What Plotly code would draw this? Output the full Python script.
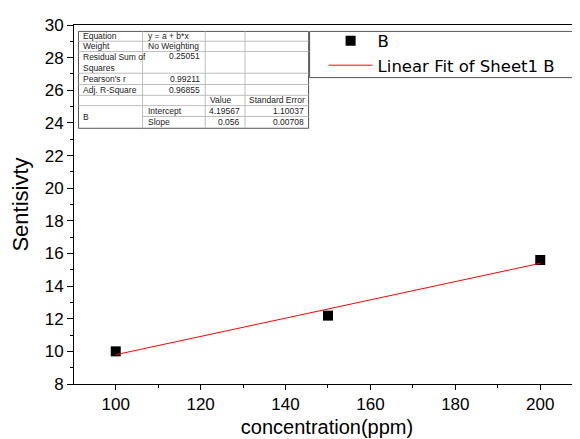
import plotly.graph_objects as go

# ---- data ----
conc = [100, 150, 200]
sens = [10.0, 12.19, 15.6]
fit_x = [100, 200]
fit_y = [9.796, 15.396]

x_ticks = [100, 120, 140, 160, 180, 200]
y_ticks = [8, 10, 12, 14, 16, 18, 20, 22, 24, 26, 28, 30]

tbl_col1 = ["Equation", "Weight", "Residual Sum of<br>Squares", "Pearson's r", "Adj. R-Square", "", "B"]
tbl_col2 = ["y = a + b*x", "No Weighting", "0.25051", "0.99211", "0.96855", "", "Intercept", "Slope"]
tbl_col3 = ["", "", "", "", "", "Value", "4.19567", "0.056"]
tbl_col4 = ["", "", "", "", "", "Standard Error", "1.10037", "0.00708"]

OFF = 8  # page body margin
W, H = 580, 439
L, T = 71 - OFF, 19 - OFF
R = OFF
B = H - (384 - OFF)
PW, PH = W - L - R, H - T - B

def px(x):
    return (x - OFF - L) / PW

def py(y):
    return (H - B - (y - OFF)) / PH

FONT = "Arial, Liberation Sans, sans-serif"
LEGFONT = "DejaVu Sans, Arial, sans-serif"

fig = go.Figure()
fig.add_trace(go.Scatter(x=conc, y=sens, mode="markers", name="B",
                         marker=dict(symbol="square", size=10, color="black")))
fig.add_trace(go.Scatter(x=fit_x, y=fit_y, mode="lines", name="Linear Fit of Sheet1 B",
                         line=dict(color="red", width=1)))

shapes = []
annotations = []

# legend frame (page pixels)
shapes.append(dict(type="rect", xref="paper", yref="paper",
                   x0=px(308), x1=px(578), y0=py(25.5), y1=py(72.5),
                   fillcolor="white", line=dict(color="#555555", width=1), layer="above"))

# table geometry (page pixels)
cols = [75.5, 140, 203, 243, 307]
rows = [25.5, 35.5, 46, 68, 79.5, 90.5, 101, 112, 124]

shapes.append(dict(type="rect", xref="paper", yref="paper",
                   x0=px(cols[0]), x1=px(cols[-1]), y0=py(rows[0]), y1=py(rows[-1]),
                   fillcolor="white", line=dict(color="#555555", width=1), layer="above"))
grid = "#bdbdbd"
for i, r in enumerate(rows[1:-1], start=1):
    x0 = cols[1] if i == 7 else cols[0]
    shapes.append(dict(type="line", xref="paper", yref="paper",
                       x0=px(x0), x1=px(cols[-1]), y0=py(r), y1=py(r),
                       line=dict(color=grid, width=1), layer="above"))
for c in cols[1:-1]:
    shapes.append(dict(type="line", xref="paper", yref="paper",
                       x0=px(c), x1=px(c), y0=py(rows[0]), y1=py(rows[-1]),
                       line=dict(color=grid, width=1), layer="above"))

def txt(s, xp, yp, anchor):
    if s == "":
        return
    annotations.append(dict(text=s, xref="paper", yref="paper", x=px(xp), y=py(yp),
                            xanchor=anchor, yanchor="middle", showarrow=False,
                            font=dict(family=FONT, size=8.5, color="#222222"),
                            align="left"))

row_centers = [(rows[i] + rows[i + 1]) / 2 for i in range(8)]
for i, s in enumerate(tbl_col1):
    if i < 6:
        txt(s, cols[0] + 3, row_centers[i], "left")
    else:
        txt(s, cols[0] + 3, (rows[6] + rows[8]) / 2, "left")
for i, s in enumerate(tbl_col2):
    yc = row_centers[i] if i != 2 else rows[2] + 5
    if i in (0, 1, 6, 7):
        txt(s, cols[1] + 3, yc, "left")
    else:
        txt(s, cols[2] - 3, yc, "right")
for i, s in enumerate(tbl_col3):
    if i == 5:
        txt(s, cols[2] + 3, row_centers[i], "left")
    else:
        txt(s, cols[3] - 3, row_centers[i], "right")
for i, s in enumerate(tbl_col4):
    if i == 5:
        txt(s, cols[3] + 2, row_centers[i], "left")
    else:
        txt(s, cols[4] - 3, row_centers[i], "right")

x_per_px = 100 / (540 - 113)
x_min = 100 - (113 - 71) * x_per_px
x_max = x_min + PW * x_per_px

fig.update_layout(
    width=W, height=H,
    margin=dict(l=L, r=R, t=T, b=B, pad=0),
    paper_bgcolor="white", plot_bgcolor="white",
    font=dict(family=FONT, color="black"),
    showlegend=True,
    legend=dict(x=px(308), y=py(17.5), xanchor="left", yanchor="top",
                borderwidth=0, bgcolor="rgba(0,0,0,0)",
                font=dict(family=LEGFONT, size=16.5, color="black"),
                itemwidth=44, tracegroupgap=0, indentation=14),
    shapes=shapes,
    annotations=annotations,
    xaxis=dict(range=[x_min, x_max], tickvals=x_ticks, showgrid=False, zeroline=False,
               showline=True, linecolor="black", linewidth=1, mirror=True,
               ticks="outside", ticklen=5, tickcolor="black",
               minor=dict(dtick=10, ticks="outside", ticklen=3, tickcolor="black"),
               tickfont=dict(size=17), title=dict(text="concentration(ppm)", font=dict(size=20), standoff=6)),
    yaxis=dict(range=[8, 30], tickvals=y_ticks, showgrid=False, zeroline=False,
               showline=True, linecolor="black", linewidth=1, mirror=False,
               ticks="outside", ticklen=6, tickcolor="black",
               minor=dict(dtick=1, ticks="outside", ticklen=3, tickcolor="black"),
               tickfont=dict(size=17), title=dict(text="Sentisivty", font=dict(size=22), standoff=13)),
)

fig.write_html("out.html")
